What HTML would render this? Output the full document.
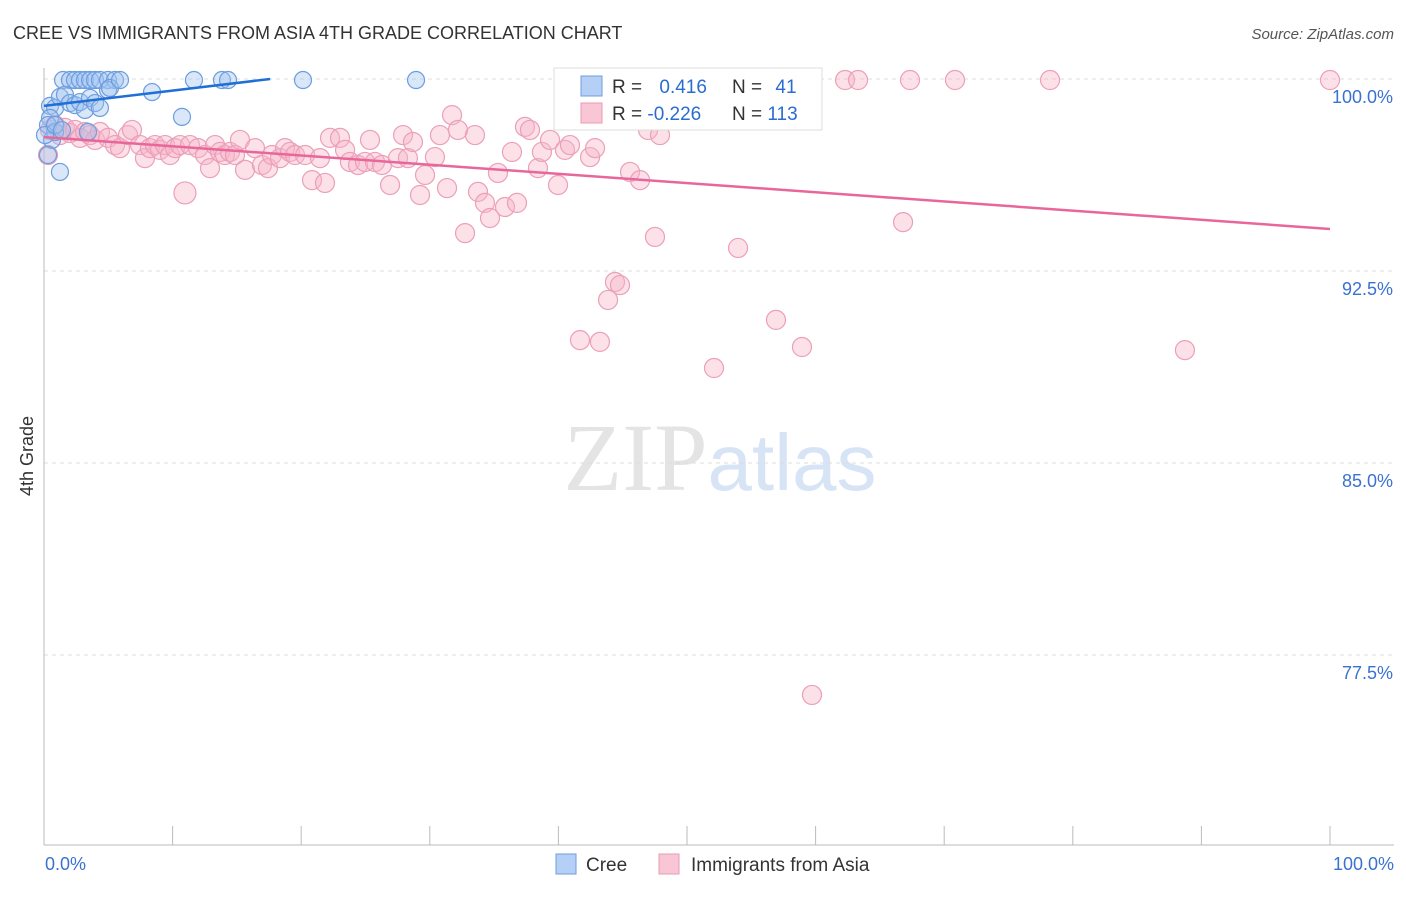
<!DOCTYPE html>
<html><head><meta charset="utf-8"><style>
body{margin:0;background:#fff;font-family:"Liberation Sans",sans-serif;}
</style></head><body>
<svg id="chart" width="1406" height="892" xmlns="http://www.w3.org/2000/svg" font-family="Liberation Sans, sans-serif">
<text x="13" y="39" font-size="18" fill="#333">CREE VS IMMIGRANTS FROM ASIA 4TH GRADE CORRELATION CHART</text>
<text x="1394" y="39" font-size="15" fill="#555" text-anchor="end" font-style="italic">Source: ZipAtlas.com</text>
<text x="720" y="490" font-size="96" text-anchor="middle" fill="#e4e4e4" font-family="Liberation Serif, serif">ZIP<tspan fill="#d6e4f5" font-family="Liberation Sans, sans-serif" font-size="80">atlas</tspan></text>
<text transform="translate(33,456) rotate(-90)" font-size="18" fill="#333" text-anchor="middle">4th Grade</text>
<g id="grid"></g><g id="axes"></g><g id="pts"></g><g id="trends"></g>
<g>
<rect x="554" y="68" width="268" height="62" fill="#fff" stroke="#ddd"/>
<rect x="581" y="76" width="21" height="20" fill="#b6d0f5" stroke="#6c9de0"/>
<text x="612" y="93" font-size="19" fill="#333">R = <tspan fill="#2a6dd0" dx="12">0.416</tspan></text>
<text x="732" y="93" font-size="19" fill="#333">N = <tspan fill="#2a6dd0" dx="8">41</tspan></text>
<rect x="581" y="103" width="21" height="20" fill="#f9c6d5" stroke="#e99ab4"/>
<text x="612" y="120" font-size="19" fill="#333">R = <tspan fill="#2a6dd0">-0.226</tspan></text>
<text x="732" y="120" font-size="19" fill="#333">N = <tspan fill="#2a6dd0">113</tspan></text>
</g>
<g>
<rect x="556" y="854" width="20" height="20" fill="#b6d0f5" stroke="#6c9de0"/>
<text x="586" y="871" font-size="19" fill="#333">Cree</text>
<rect x="659" y="854" width="20" height="20" fill="#f9c6d5" stroke="#e99ab4"/>
<text x="691" y="871" font-size="19" fill="#333">Immigrants from Asia</text>
</g>
</svg>
<script>
const yTicks=[100,92.5,85,77.5];
const yTickLabels=["100.0%","92.5%","85.0%","77.5%"];
const xTickLabels=["0.0%","100.0%"];
const creeX=[0.47,0.86,1.24,1.48,2.02,2.41,2.80,3.19,3.58,3.97,4.35,4.98,5.52,1.63,2.02,2.41,2.80,3.19,3.58,3.97,4.35,4.98,5.13,0.47,0.31,0.62,0.86,1.24,0.31,0.08,8.40,10.73,11.66,13.84,14.31,20.14,28.93,0.86,1.40,3.42,5.91];
const creeY=[98.95,98.87,99.30,99.96,99.96,99.96,99.96,99.96,99.96,99.96,99.96,99.96,99.96,99.38,99.06,98.98,99.10,98.79,99.26,99.06,98.87,99.57,99.65,98.48,98.20,97.62,97.93,96.37,97.03,97.81,99.49,98.52,99.96,99.96,99.96,99.96,99.96,98.20,98.0,97.93,99.96];
const asiaX=[0.47,0.86,1.24,1.63,2.02,2.41,2.80,3.19,3.58,3.97,4.35,4.98,5.52,5.91,6.53,6.84,7.47,7.85,8.24,8.63,9.02,9.41,9.80,10.19,10.58,10.96,11.35,11.98,12.52,12.91,13.30,13.69,14.07,14.46,14.85,15.24,15.63,16.41,16.95,17.42,17.73,18.35,18.74,19.13,19.52,20.30,20.84,21.46,21.85,22.24,23.02,23.41,23.79,24.42,24.96,25.35,25.74,26.28,26.91,27.53,27.92,28.30,28.69,29.24,29.63,30.40,30.79,31.34,31.73,32.19,32.74,33.51,33.75,34.29,34.68,35.30,35.85,36.39,36.78,37.40,37.79,38.41,38.72,39.35,39.97,40.51,40.90,41.68,42.46,42.85,43.23,43.86,44.40,44.79,45.57,46.35,46.97,47.51,47.90,52.10,53.97,56.92,58.94,59.72,62.29,63.30,67.34,66.80,70.84,78.23,88.72,100,52.57,53.34,52.41,45.18,43.47,0.31];
const asiaY=[98.01,98.20,97.81,98.09,97.89,98.01,97.70,97.93,97.81,97.62,97.93,97.70,97.42,97.30,97.81,98.01,97.42,96.91,97.30,97.42,97.23,97.42,97.03,97.30,97.42,95.55,97.42,97.30,97.03,96.52,97.42,97.15,97.03,97.15,97.03,97.62,96.45,97.30,96.64,96.52,97.03,96.91,97.30,97.15,97.03,97.03,96.05,96.91,95.94,97.70,97.70,97.23,96.76,96.64,96.76,97.62,96.76,96.64,95.86,96.91,97.81,96.91,97.54,95.47,96.25,96.95,97.81,95.74,98.59,98.01,93.98,97.81,95.59,95.16,94.57,96.33,95.00,97.15,95.16,98.13,98.01,96.52,97.15,97.62,95.86,97.23,97.42,89.80,96.95,97.30,89.73,91.37,92.07,91.95,96.37,96.05,98.01,93.83,97.81,88.71,93.40,90.59,89.53,75.94,99.96,99.96,99.96,94.41,99.96,99.96,89.41,99.96,99.96,99.96,99.45,99.18,98.40,97.03];
const creeTrend=[98.95,0.0597];
const asiaTrend=[97.73,-0.0359];
const NS="http://www.w3.org/2000/svg";
const X=v=>44+v*12.86;
const Y=v=>79+(100-v)*25.6;
function mk(tag,attrs,parent){const e=document.createElementNS(NS,tag);for(const k in attrs)e.setAttribute(k,attrs[k]);document.getElementById(parent).appendChild(e);return e;}
yTicks.forEach((t,i)=>{
 const l=mk('line',{x1:44,x2:1394,y1:Y(t),y2:Y(t),stroke:'#ddd','stroke-dasharray':'4,4'},'grid');
 
 
 const tx=mk('text',{x:1393,y:Y(t)+24,'font-size':18,fill:'#3a72d0','text-anchor':'end'},'grid');
 tx.textContent=yTickLabels[i];
 
 
});
const ax=mk('line',{x1:44,x2:1394,y1:845,y2:845,stroke:'#bbb'},'axes');


const ay=mk('line',{x1:44,x2:44,y1:68,y2:845,stroke:'#bbb'},'axes');


for(let i=0;i<=10;i++){
 const t=mk('line',{x1:X(i*10),x2:X(i*10),y1:826,y2:845,stroke:'#bbb'},'axes');
 
 
}
[[0,'start',45],[100,'end',1394]].forEach((d,i)=>{
 const t=mk('text',{x:d[2],y:870,'font-size':18,fill:'#3a72d0','text-anchor':d[1]},'axes');
 t.textContent=xTickLabels[i];
 
 
});
asiaX.forEach((x,i)=>{
 const c=mk('circle',{cx:X(x),cy:Y(asiaY[i]),r:(i==25?11:9.5),fill:'rgba(248,180,200,0.4)',stroke:'#eb9fb9','stroke-width':1.2},'pts');
 
 
});
creeX.forEach((x,i)=>{
 const c=mk('circle',{cx:X(x),cy:Y(creeY[i]),r:8.5,fill:'rgba(160,196,240,0.4)',stroke:'#6c9de0','stroke-width':1.2},'pts');
 
 
});
const xEnd=(100-creeTrend[0])/creeTrend[1];
const bl=mk('line',{x1:X(0),y1:Y(creeTrend[0]),x2:X(xEnd),y2:Y(100),stroke:'#1f6fd6','stroke-width':2.5},'trends');


const pl=mk('line',{x1:X(0),y1:Y(asiaTrend[0]),x2:X(100),y2:Y(asiaTrend[0]+asiaTrend[1]*100),stroke:'#e8679a','stroke-width':2.5},'trends');


</script>
</body></html>
